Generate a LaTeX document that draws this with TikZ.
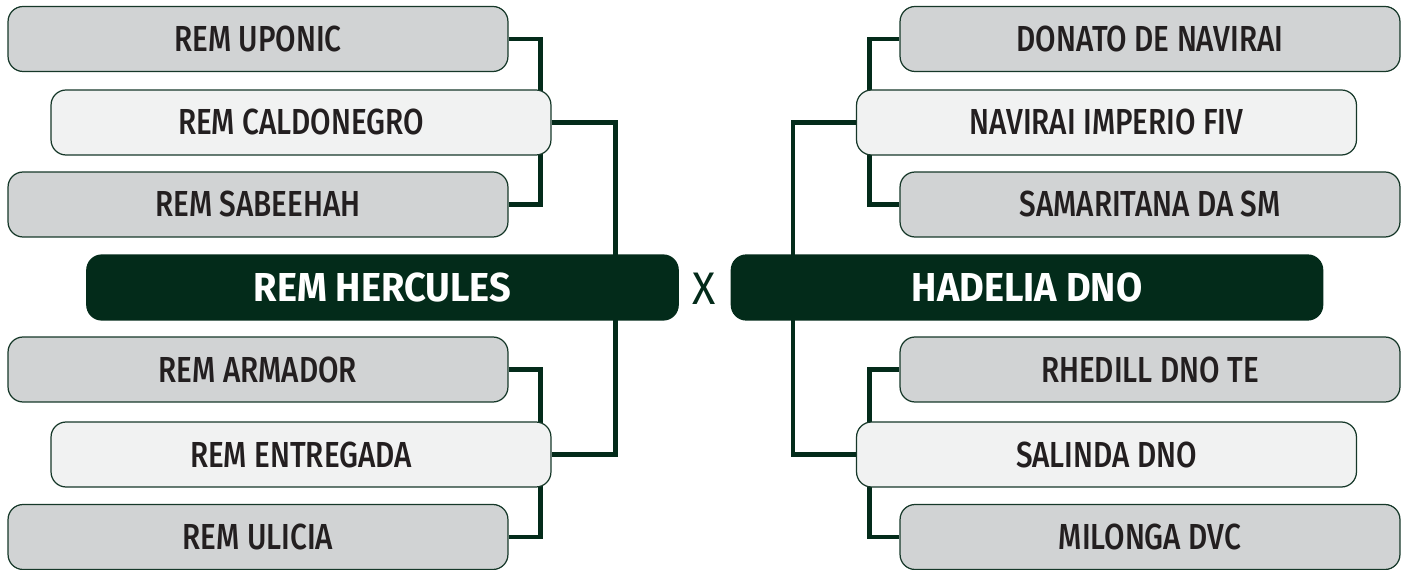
\documentclass[tikz,border=0pt]{standalone}
\usepackage{fontspec}
\setmainfont{Fira Sans}[UprightFont=* Medium, BoldFont=* Bold, FakeStretch=0.82]
\newfontfamily\finalfont{Fira Sans}[FakeStretch=0.94]
\usetikzlibrary{backgrounds}

\definecolor{rimgreen}{HTML}{032B1A}
\definecolor{boxgray}{HTML}{D1D3D4}
\definecolor{boxlight}{HTML}{F1F2F2}
\definecolor{labelink}{HTML}{231F20}

\begin{document}
\begin{tikzpicture}[
	x=0.02cm, y=-0.02cm,
	entry/.style={
		rectangle,
		rounded corners=0.3cm,
		draw=rimgreen!85!gray,
		line width=0.7pt,
		minimum width=10cm,
		minimum height=1.3cm,
		text=labelink,
		font=\fontsize{20.6}{24}\selectfont
	},
	loser/.style={entry, fill=boxgray},
	semi/.style={entry, fill=boxlight},
	finalist/.style={
		entry,
		fill=rimgreen,
		draw=rimgreen,
		minimum width=11.83cm,
		text=white,
		font=\finalfont\fontsize{23}{27}\selectfont\bfseries
	},
	bracket/.style={rimgreen, line width=0.09cm},
]

\useasboundingbox (0,0) rectangle (1410,570);

% left half of the draw
\foreach \name/\y/\txt in {upo/39/REM UPONIC, sab/204.5/REM SABEEHAH,
		arm/369.5/REM ARMADOR, uli/537/REM ULICIA} {
	\node[loser] (\name) at (258, \y) {\txt};
}
\node[semi] (cal) at (301, 122.5) {REM CALDONEGRO};
\node[semi] (ent) at (301, 454.5) {REM ENTREGADA};
\node[finalist] (her) at (382.5, 287.5) {REM HERCULES};

% right half of the draw
\foreach \name/\y/\txt in {don/39/DONATO DE NAVIRAI, sam/204.5/SAMARITANA DA SM,
		rhe/369.5/RHEDILL DNO TE, mil/537/MILONGA DVC} {
	\node[loser] (\name) at (1150, \y) {\txt};
}
\node[semi] (nav) at (1106.5, 122.5) {NAVIRAI IMPERIO FIV};
\node[semi] (sal) at (1106.5, 454.5) {SALINDA DNO};
\node[finalist] (had) at (1027, 287.5) {HADELIA DNO};

\node[rimgreen, font=\finalfont\fontsize{26}{30}\selectfont] (vs) at (704, 289) {X};

% brackets behind the boxes
\begin{pgfonlayer}{background}
	\draw[bracket] (upo.east) -- ++(32,0) |- (sab.east);
	\draw[bracket] (arm.east) -- ++(32,0) |- (uli.east);
	\draw[bracket] (cal.east) -- ++(64,0) |- (ent.east);
	\draw[bracket] (don.west) -- ++(-30,0) |- (sam.west);
	\draw[bracket] (rhe.west) -- ++(-30,0) |- (mil.west);
	\draw[bracket] (nav.west) -- ++(-63,0) |- (sal.west);
\end{pgfonlayer}

\end{tikzpicture}
\end{document}
